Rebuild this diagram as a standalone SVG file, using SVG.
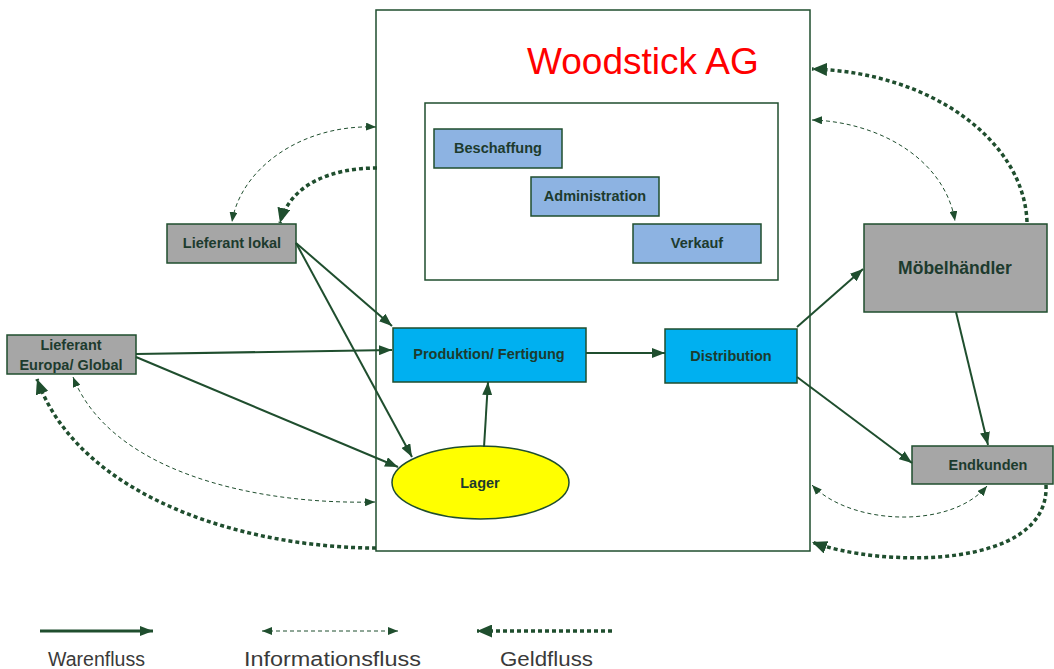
<svg xmlns="http://www.w3.org/2000/svg" width="1054" height="669" viewBox="0 0 1054 669">
<style>
.box{stroke:#1f4e2e;stroke-width:1.5}
.lbl{font-family:"Liberation Sans",Arial,sans-serif;font-weight:bold;font-size:14.5px;fill:#1d3b2e;text-anchor:middle}
.ware{fill:none;stroke:#1f4e2e;stroke-width:2}
.info{fill:none;stroke:#1f4e2e;stroke-width:1;stroke-dasharray:4 3}
.geld{fill:none;stroke:#1f4e2e;stroke-width:3.5;stroke-dasharray:4 3}
.leg{font-family:"Liberation Sans",Arial,sans-serif;font-size:20px;fill:#3a3a3a}
</style>
<defs>
<marker id="aw" viewBox="0 0 13 10" refX="13" refY="5" markerWidth="13" markerHeight="10" markerUnits="userSpaceOnUse" orient="auto-start-reverse"><path d="M0,0 L13,5 L0,10 z" fill="#1f4e2e"/></marker>
<marker id="ai" viewBox="0 0 10 8" refX="10" refY="4" markerWidth="10" markerHeight="8" markerUnits="userSpaceOnUse" orient="auto-start-reverse"><path d="M0,0 L10,4 L0,8 z" fill="#1f4e2e"/></marker>
<marker id="ag" viewBox="0 0 15 13" refX="15" refY="6.5" markerWidth="15" markerHeight="13" markerUnits="userSpaceOnUse" orient="auto-start-reverse"><path d="M0,0 L15,6.5 L0,13 z" fill="#1f4e2e"/></marker>
</defs>
<rect width="1054" height="669" fill="#ffffff"/>

<g id="woodstick">
<rect x="376" y="10" width="434" height="541" fill="#ffffff" class="box"/>
<text x="527" y="74" font-family="'Liberation Sans',Arial,sans-serif" font-size="37" fill="#ff0000">Woodstick AG</text>
</g>
<g id="verwaltung">
<rect x="425" y="103" width="353" height="177" fill="none" class="box"/>
</g>
<g id="beschaffung">
<rect x="434" y="129" width="128" height="39" fill="#8db3e2" class="box"/>
<text x="498" y="153" class="lbl">Beschaffung</text>
</g>
<g id="administration">
<rect x="531" y="177" width="128" height="39" fill="#8db3e2" class="box"/>
<text x="595" y="201" class="lbl">Administration</text>
</g>
<g id="verkauf">
<rect x="633" y="224" width="128" height="39" fill="#8db3e2" class="box"/>
<text x="697" y="248" class="lbl">Verkauf</text>
</g>
<g id="produktion">
<rect x="393" y="328" width="193" height="54" fill="#00b0f0" class="box"/>
<text x="489" y="359" class="lbl">Produktion/ Fertigung</text>
</g>
<g id="distribution">
<rect x="665" y="329" width="132" height="54" fill="#00b0f0" class="box"/>
<text x="731" y="361" class="lbl">Distribution</text>
</g>
<g id="lager">
<ellipse cx="480.5" cy="482.5" rx="88.5" ry="36.5" fill="#ffff00" class="box"/>
<text x="480" y="488" class="lbl">Lager</text>
</g>
<g id="lieferant-lokal">
<rect x="167" y="224" width="129" height="39" fill="#a6a6a6" class="box"/>
<text x="232" y="248" class="lbl">Lieferant lokal</text>
</g>
<g id="lieferant-global">
<rect x="7" y="335" width="129" height="39" fill="#a6a6a6" class="box"/>
<text x="71" y="350" class="lbl">Lieferant</text>
<text x="71" y="370" class="lbl">Europa/ Global</text>
</g>
<g id="moebelhaendler">
<rect x="864" y="224" width="183" height="88" fill="#a6a6a6" class="box"/>
<text x="955" y="274" class="lbl" style="font-size:17.5px">Möbelhändler</text>
</g>
<g id="endkunden">
<rect x="912" y="446" width="141" height="38" fill="#a6a6a6" class="box"/>
<text x="988" y="470" class="lbl">Endkunden</text>
</g>

<g id="connectors">
<line x1="296" y1="243" x2="392" y2="326" class="ware" marker-end="url(#aw)"/>
<line x1="296" y1="243" x2="412" y2="457" class="ware" marker-end="url(#aw)"/>
<line x1="136" y1="354" x2="392" y2="350" class="ware" marker-end="url(#aw)"/>
<line x1="136" y1="357" x2="398" y2="467" class="ware" marker-end="url(#aw)"/>
<line x1="484" y1="447" x2="488" y2="382" class="ware" marker-end="url(#aw)"/>
<line x1="586" y1="353" x2="665" y2="353" class="ware" marker-end="url(#aw)"/>
<line x1="797" y1="327" x2="863" y2="269" class="ware" marker-end="url(#aw)"/>
<line x1="797" y1="377" x2="912" y2="463" class="ware" marker-end="url(#aw)"/>
<line x1="956" y1="312" x2="988" y2="445" class="ware" marker-end="url(#aw)"/>

<path d="M376,127 C300,124 240,170 232,222" class="info" marker-start="url(#ai)" marker-end="url(#ai)"/>
<path d="M375,502 C250,505 110,470 73,377" class="info" marker-start="url(#ai)" marker-end="url(#ai)"/>
<path d="M812,120 C880,122 945,160 955,221" class="info" marker-start="url(#ai)" marker-end="url(#ai)"/>
<path d="M812,485 C850,525 950,530 987,486" class="info" marker-start="url(#ai)" marker-end="url(#ai)"/>

<path d="M377,168 C330,168 290,185 280,223" class="geld" marker-end="url(#ag)"/>
<path d="M376,548 C250,548 80,500 37,379" class="geld" marker-end="url(#ag)"/>
<path d="M1027,222 C1024,140 930,72 812,69" class="geld" marker-end="url(#ag)"/>
<path d="M1046,485 C1050,570 880,568 812,542" class="geld" marker-end="url(#ag)"/>
</g>

<g id="legende">
<line x1="40" y1="631" x2="153" y2="631" class="ware" style="stroke-width:3" marker-end="url(#aw)"/>
<text x="48" y="666" class="leg" textLength="97" lengthAdjust="spacingAndGlyphs">Warenfluss</text>
<line x1="262" y1="631" x2="398" y2="631" class="info" marker-start="url(#ai)" marker-end="url(#ai)"/>
<text x="244" y="666" class="leg" textLength="177" lengthAdjust="spacingAndGlyphs">Informationsfluss</text>
<line x1="612" y1="631" x2="477" y2="631" class="geld" marker-end="url(#ag)"/>
<text x="500" y="666" class="leg" textLength="93" lengthAdjust="spacingAndGlyphs">Geldfluss</text>
</g>
</svg>
